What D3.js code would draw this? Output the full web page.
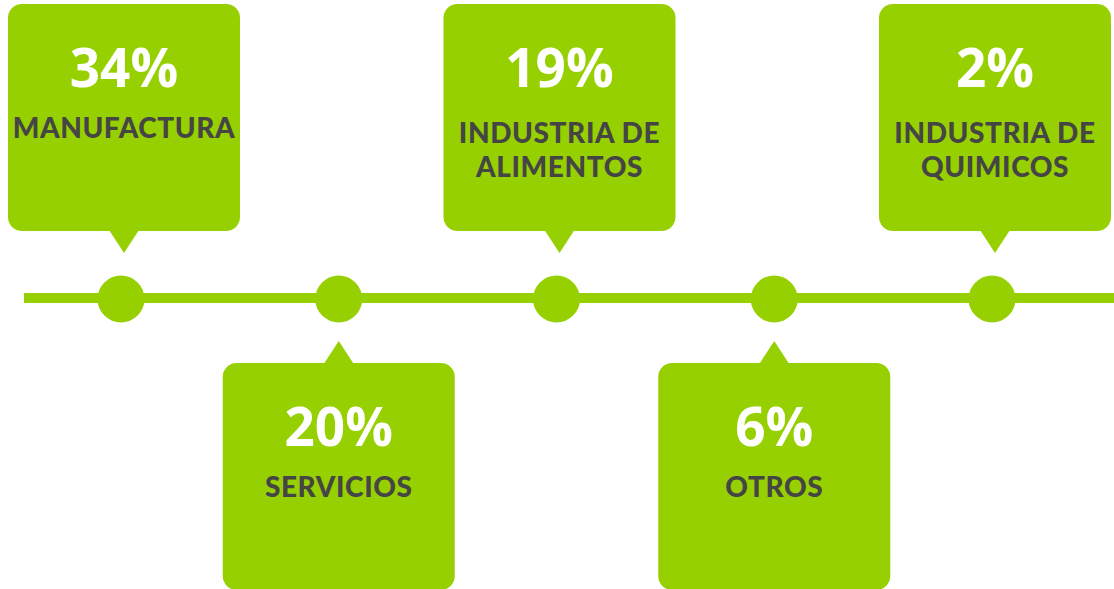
<!DOCTYPE html>
<html>
<head>
<meta charset="utf-8">
<script src="https://cdn.jsdelivr.net/npm/d3@7"></script>
<style>
  html, body { margin: 0; padding: 0; background: #fff; }
  svg { display: block; }
</style>
</head>
<body>
<svg></svg>
<script>
let categories = ["Manufactura", "Servicios", "Alimentos", "Otros", "Quimicos"]
let values = [34, 20, 19, 6, 2]
let labelLines = [
  ["MANUFACTURA"],
  ["SERVICIOS"],
  ["INDUSTRIA DE", "ALIMENTOS"],
  ["OTROS"],
  ["INDUSTRIA DE", "QUIMICOS"]
]

let width = 1114
let height = 589
let green = "#97d000"
let dark = "#454545"

let boxW = 232
let boxH = 227
let lineY = 298

let svg = d3.select("svg")
  .attr("width", width)
  .attr("height", height)

let xScale = d3.scalePoint()
  .domain(categories)
  .range([121, 992])

let items = categories.map((c, i) => {
  return { name: c, value: values[i], lines: labelLines[i], up: i % 2 == 0 }
})

// timeline
svg.append("line")
  .attr("x1", 24)
  .attr("x2", width)
  .attr("y1", lineY)
  .attr("y2", lineY)
  .attr("stroke", green)
  .attr("stroke-width", 10)

svg.selectAll("circle.dot")
  .data(items)
  .enter()
  .append("circle")
  .attr("class", "dot")
  .attr("cx", (d) => xScale(d.name))
  .attr("cy", lineY + 1)
  .attr("r", 23.5)
  .attr("fill", green)

let boxTop = (d) => d.up ? 4 : 363
// upper boxes sit a little right of their dot
let cx = (d) => xScale(d.name) + (d.up ? 3 : 0)

let g = svg.selectAll("g.box")
  .data(items)
  .enter()
  .append("g")
  .attr("class", "box")

g.append("rect")
  .attr("x", (d) => cx(d) - boxW / 2)
  .attr("y", boxTop)
  .attr("width", boxW)
  .attr("height", boxH)
  .attr("rx", 14)
  .attr("fill", green)

// pointer triangles
g.append("path")
  .attr("d", (d) => {
    let x = cx(d)
    if (d.up) {
      let y = boxTop(d) + boxH - 1
      return "M" + (x - 15) + "," + y + "L" + (x + 15) + "," + y + "L" + x + "," + (y + 23) + "Z"
    } else {
      let y = boxTop(d) + 1
      return "M" + (x - 15) + "," + y + "L" + (x + 15) + "," + y + "L" + x + "," + (y - 23) + "Z"
    }
  })
  .attr("fill", green)

g.append("text")
  .attr("x", cx)
  .attr("y", (d) => boxTop(d) + 83)
  .attr("text-anchor", "middle")
  .attr("font-family", "'Open Sans', sans-serif")
  .attr("font-weight", "bold")
  .attr("font-size", 53)
  .attr("fill", "#fff")
  .text((d) => d.value + "%")

g.each(function (d) {
  let sel = d3.select(this)
  let t0 = d.lines.length > 1 ? 139 : 134
  d.lines.forEach((line, j) => {
    sel.append("text")
      .attr("x", cx(d))
      .attr("y", boxTop(d) + t0 + j * 34)
      .attr("text-anchor", "middle")
      .attr("font-family", "Lato, sans-serif")
      .attr("font-weight", 900)
      .attr("font-size", 28)
      .attr("letter-spacing", 0.6)
      .attr("fill", dark)
      .text(line)
  })
})
</script>
</body>
</html>
